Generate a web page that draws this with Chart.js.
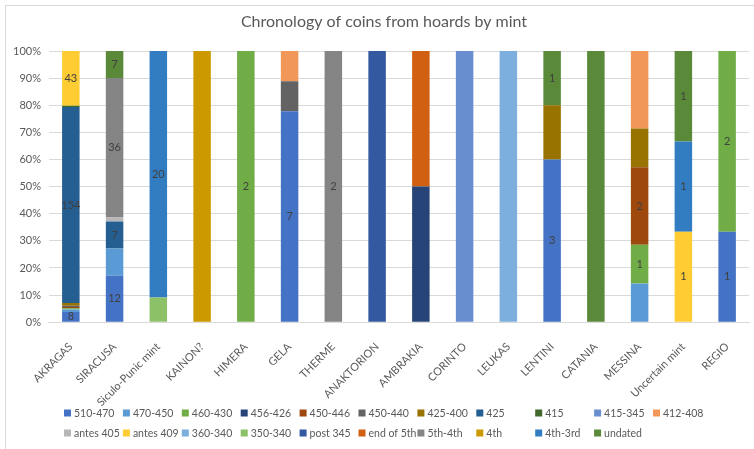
<!DOCTYPE html>
<html>
<head>
<meta charset="utf-8">
<script src="https://cdn.jsdelivr.net/npm/chart.js@4/dist/chart.umd.min.js"></script>
<style>
html,body{margin:0;padding:0;background:#fff;}
#wrap{position:absolute;left:0;top:0;width:754px;height:449px;}
</style>
</head>
<body>
<div id="wrap"><canvas id="c" width="754" height="449"></canvas></div>
<script>
const titleText = 'Chronology of coins from hoards by mint';
const mints = ['AKRAGAS','SIRACUSA','Siculo-Punic mint','KAINON?','HIMERA','GELA','THERME','ANAKTORION','AMBRAKIA','CORINTO','LEUKAS','LENTINI','CATANIA','MESSINA','Uncertain mint','REGIO'];
const seriesNames = ['510-470','470-450','460-430','456-426','450-446','450-440','425-400','425','415','415-345','412-408',
                     'antes 405','antes 409','360-340','350-340','post 345','end of 5th','5th-4th','4th','4th-3rd','undated'];
const seriesColors = ['#4472C4','#5B9BD5','#70AD47','#264478','#9E480E','#636363','#997300','#255E91','#43682B','#698ED0','#F1975A',
                      '#B7B7B7','#FFCD33','#7CAFDD','#8CC168','#335AA1','#D26012','#848484','#CC9A00','#327DC2','#5A8A39'];
//                 AKR SIR SPu KAI HIM GEL THE ANA AMB COR LEU LEN CAT MES Unc REG
const s510_470  = [  8, 12,  0,  0,  0,  7,  0,  0,  0,  0,  0,  3,  0,  0,  0,  1];
const s470_450  = [  2,  7,  0,  0,  0,  0,  0,  0,  0,  0,  0,  0,  0,  1,  0,  0];
const s460_430  = [  1,  0,  0,  0,  2,  0,  0,  0,  0,  0,  0,  0,  0,  1,  0,  2];
const s456_426  = [  0,  0,  0,  0,  0,  0,  0,  0,  1,  0,  0,  0,  0,  0,  0,  0];
const s450_446  = [  1,  0,  0,  0,  0,  0,  0,  0,  0,  0,  0,  0,  0,  2,  0,  0];
const s450_440  = [  1,  0,  0,  0,  0,  1,  0,  0,  0,  0,  0,  0,  0,  0,  0,  0];
const s425_400  = [  2,  0,  0,  0,  0,  0,  0,  0,  0,  0,  0,  1,  0,  1,  0,  0];
const s425      = [154,  7,  0,  0,  0,  0,  0,  0,  0,  0,  0,  0,  0,  0,  0,  0];
const s415      = [  1,  0,  0,  0,  0,  0,  0,  0,  0,  0,  0,  0,  0,  0,  0,  0];
const s415_345  = [  0,  0,  0,  0,  0,  0,  0,  0,  0,  1,  0,  0,  0,  0,  0,  0];
const s412_408  = [  0,  0,  0,  0,  0,  1,  0,  0,  0,  0,  0,  0,  0,  2,  0,  0];
const sAntes405 = [  0,  1,  0,  0,  0,  0,  0,  0,  0,  0,  0,  0,  0,  0,  0,  0];
const sAntes409 = [ 43,  0,  0,  0,  0,  0,  0,  0,  0,  0,  0,  0,  0,  0,  1,  0];
const s360_340  = [  0,  0,  0,  0,  0,  0,  0,  0,  0,  0,  1,  0,  0,  0,  0,  0];
const s350_340  = [  0,  0,  2,  0,  0,  0,  0,  0,  0,  0,  0,  0,  0,  0,  0,  0];
const sPost345  = [  0,  0,  0,  0,  0,  0,  0,  1,  0,  0,  0,  0,  0,  0,  0,  0];
const sEnd5th   = [  0,  0,  0,  0,  0,  0,  0,  0,  1,  0,  0,  0,  0,  0,  0,  0];
const s5th_4th  = [  0, 36,  0,  0,  0,  0,  2,  0,  0,  0,  0,  0,  0,  0,  0,  0];
const s4th      = [  0,  0,  0,  1,  0,  0,  0,  0,  0,  0,  0,  0,  0,  0,  0,  0];
const s4th_3rd  = [  0,  0, 20,  0,  0,  0,  0,  0,  0,  0,  0,  0,  0,  0,  1,  0];
const sUndated  = [  0,  7,  0,  0,  0,  0,  0,  0,  0,  0,  0,  1,  1,  0,  1,  0];
const seriesValues = [s510_470,s470_450,s460_430,s456_426,s450_446,s450_440,s425_400,s425,s415,s415_345,s412_408,
                      sAntes405,sAntes409,s360_340,s350_340,sPost345,sEnd5th,s5th_4th,s4th,s4th_3rd,sUndated];
const yTicks = [0,10,20,30,40,50,60,70,80,90,100];
// data labels shown for these series (as in the original)
const labeledSeries = ['510-470','460-430','450-446','425','antes 409','5th-4th','4th-3rd','undated'];
const unlabeledPoints = [['CATANIA','undated'],['AKRAGAS','460-430'],['AKRAGAS','450-446']];

const totals = mints.map((m,j)=>seriesValues.reduce((a,s)=>a+s[j],0));
const FONT = 'Lato, "Open Sans", sans-serif';
const TXT = '#595959';

const datasets = seriesNames.map((name,i)=>({
  label:name,
  data: seriesValues[i].map((v,j)=> v/totals[j]*100),
  raw: seriesValues[i],
  backgroundColor: seriesColors[i],
  borderWidth:0,
  barPercentage:0.8,
  categoryPercentage:0.5
}));

const decor = {
  id:'decor',
  beforeDraw(chart){
    const ctx = chart.ctx;
    ctx.save();
    ctx.fillStyle='#fff'; ctx.fillRect(0,0,chart.width,chart.height);
    ctx.strokeStyle='#d9d9d9'; ctx.lineWidth=1;
    ctx.beginPath(); ctx.moveTo(5.5,chart.height); ctx.lineTo(5.5,5.5); ctx.lineTo(chart.width,5.5); ctx.stroke();
    ctx.fillStyle=TXT; ctx.font='16px '+FONT; ctx.textAlign='center'; ctx.textBaseline='middle';
    ctx.fillText(titleText,384,22);
    ctx.restore();
  },
  afterDatasetsDraw(chart){
    const ctx = chart.ctx;
    ctx.save();
    ctx.font='11px '+FONT; ctx.fillStyle='#404040'; ctx.textAlign='center'; ctx.textBaseline='middle';
    chart.data.datasets.forEach((ds,i)=>{
      if(!labeledSeries.includes(ds.label)) return;
      const meta = chart.getDatasetMeta(i);
      meta.data.forEach((bar,j)=>{
        const v = ds.raw[j];
        if(!v) return;
        if(unlabeledPoints.some(p=>p[0]===mints[j]&&p[1]===ds.label)) return;
        ctx.fillText(String(v), bar.x, (bar.y+bar.base)/2);
      });
    });
    ctx.restore();
  },
  afterDraw(chart){
    const ctx = chart.ctx;
    ctx.save();
    ctx.font='10.5px '+FONT; ctx.textBaseline='middle'; ctx.textAlign='left';
    const perRow = 11, x0 = 64, colW = 58.9, rowY = [413,433];
    chart.data.datasets.forEach((ds,i)=>{
      const r = Math.floor(i/perRow), c = i%perRow;
      const x = x0 + c*colW, y = rowY[r];
      ctx.fillStyle = ds.backgroundColor;
      ctx.fillRect(x, y-3.5, 7, 7);
      ctx.fillStyle = TXT;
      ctx.fillText(ds.label, x+10, y+0.5);
    });
    ctx.restore();
  }
};

new Chart(document.getElementById('c'),{
  type:'bar',
  data:{labels:mints, datasets},
  options:{
    responsive:false,
    animation:false,
    layout:{padding:{top:51,left:5,right:5,bottom:30}},
    plugins:{legend:{display:false},title:{display:false},tooltip:{enabled:false}},
    scales:{
      x:{stacked:true,
         grid:{display:false},
         border:{display:true,color:'#d9d9d9'},
         ticks:{color:TXT,font:{family:FONT,size:11},maxRotation:45,minRotation:45,autoSkip:false,padding:10}},
      y:{stacked:true,min:0,max:100,
         afterBuildTicks(axis){axis.ticks = yTicks.map(v=>({value:v}));},
         grid:{color:'#d9d9d9',drawTicks:false},
         border:{display:false},
         ticks:{color:TXT,font:{family:FONT,size:11},padding:8,callback:v=>v+'%'}}
    }
  },
  plugins:[decor]
});
</script>
</body>
</html>
